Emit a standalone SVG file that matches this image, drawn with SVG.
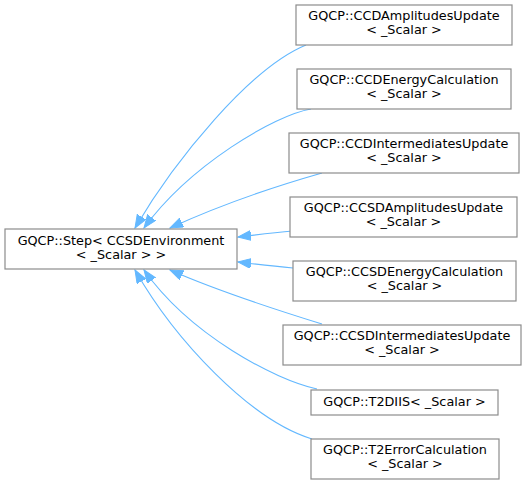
<svg xmlns="http://www.w3.org/2000/svg" width="531" height="485" viewBox="0 0 531 485">
<style>
.box{fill:#ffffff;stroke:#8c8c8c;stroke-width:1.2}
.lbl{font-family:"DejaVu Sans",sans-serif;font-size:12.8px;fill:#000000;text-anchor:middle}
.edge{fill:none;stroke:#63b8ff;stroke-width:1.1}
</style>
<defs>
<marker id="arr" markerUnits="userSpaceOnUse" markerWidth="14" markerHeight="12" refX="13" refY="5" orient="auto">
<path d="M0,0 L13,5 L0,10 Z" fill="#63b8ff" stroke="#63b8ff" stroke-width="1"/>
</marker>
</defs>
<rect width="531" height="485" fill="#ffffff"/>
<g id="connectors">
<path class="edge" marker-end="url(#arr)" d="M306,45 C250,68 175,160 135,228"/>
<path class="edge" marker-end="url(#arr)" d="M311,109 C275,115 190,165 144,228"/>
<path class="edge" marker-end="url(#arr)" d="M322,173 C280,185 220,205 170,228"/>
<path class="edge" marker-end="url(#arr)" d="M293,231 C270,233 255,235 238,237"/>
<path class="edge" marker-end="url(#arr)" d="M293,268 C270,266 255,264 238,262"/>
<path class="edge" marker-end="url(#arr)" d="M322,324 C280,311 220,292 170,270"/>
<path class="edge" marker-end="url(#arr)" d="M317,389 C275,380 190,335 144,270"/>
<path class="edge" marker-end="url(#arr)" d="M312,439 C250,420 175,340 135,270"/>
</g>
<g id="base">
<rect class="box" x="5" y="229" width="232" height="40"/>
<text class="lbl" x="121" y="244.5">GQCP::Step&lt; CCSDEnvironment</text>
<text class="lbl" x="121" y="258.5">&lt; _Scalar &gt; &gt;</text>
</g>
<g id="n1">
<rect class="box" x="296" y="5" width="216" height="40"/>
<text class="lbl" x="404" y="20">GQCP::CCDAmplitudesUpdate</text>
<text class="lbl" x="404" y="34">&lt; _Scalar &gt;</text>
</g>
<g id="n2">
<rect class="box" x="297" y="69" width="214" height="40"/>
<text class="lbl" x="404" y="84">GQCP::CCDEnergyCalculation</text>
<text class="lbl" x="404" y="98">&lt; _Scalar &gt;</text>
</g>
<g id="n3">
<rect class="box" x="289" y="133" width="230" height="40"/>
<text class="lbl" x="404" y="148">GQCP::CCDIntermediatesUpdate</text>
<text class="lbl" x="404" y="162">&lt; _Scalar &gt;</text>
</g>
<g id="n4">
<rect class="box" x="290" y="197" width="227" height="40"/>
<text class="lbl" x="403.5" y="212">GQCP::CCSDAmplitudesUpdate</text>
<text class="lbl" x="403.5" y="226">&lt; _Scalar &gt;</text>
</g>
<g id="n5">
<rect class="box" x="293" y="261" width="223" height="40"/>
<text class="lbl" x="404.5" y="276">GQCP::CCSDEnergyCalculation</text>
<text class="lbl" x="404.5" y="290">&lt; _Scalar &gt;</text>
</g>
<g id="n6">
<rect class="box" x="283" y="325" width="238" height="40"/>
<text class="lbl" x="402" y="340">GQCP::CCSDIntermediatesUpdate</text>
<text class="lbl" x="402" y="354">&lt; _Scalar &gt;</text>
</g>
<g id="n7">
<rect class="box" x="311" y="390" width="187" height="25"/>
<text class="lbl" x="404.5" y="406">GQCP::T2DIIS&lt; _Scalar &gt;</text>
</g>
<g id="n8">
<rect class="box" x="311" y="439" width="188" height="40"/>
<text class="lbl" x="405" y="454">GQCP::T2ErrorCalculation</text>
<text class="lbl" x="405" y="468">&lt; _Scalar &gt;</text>
</g>
</svg>
